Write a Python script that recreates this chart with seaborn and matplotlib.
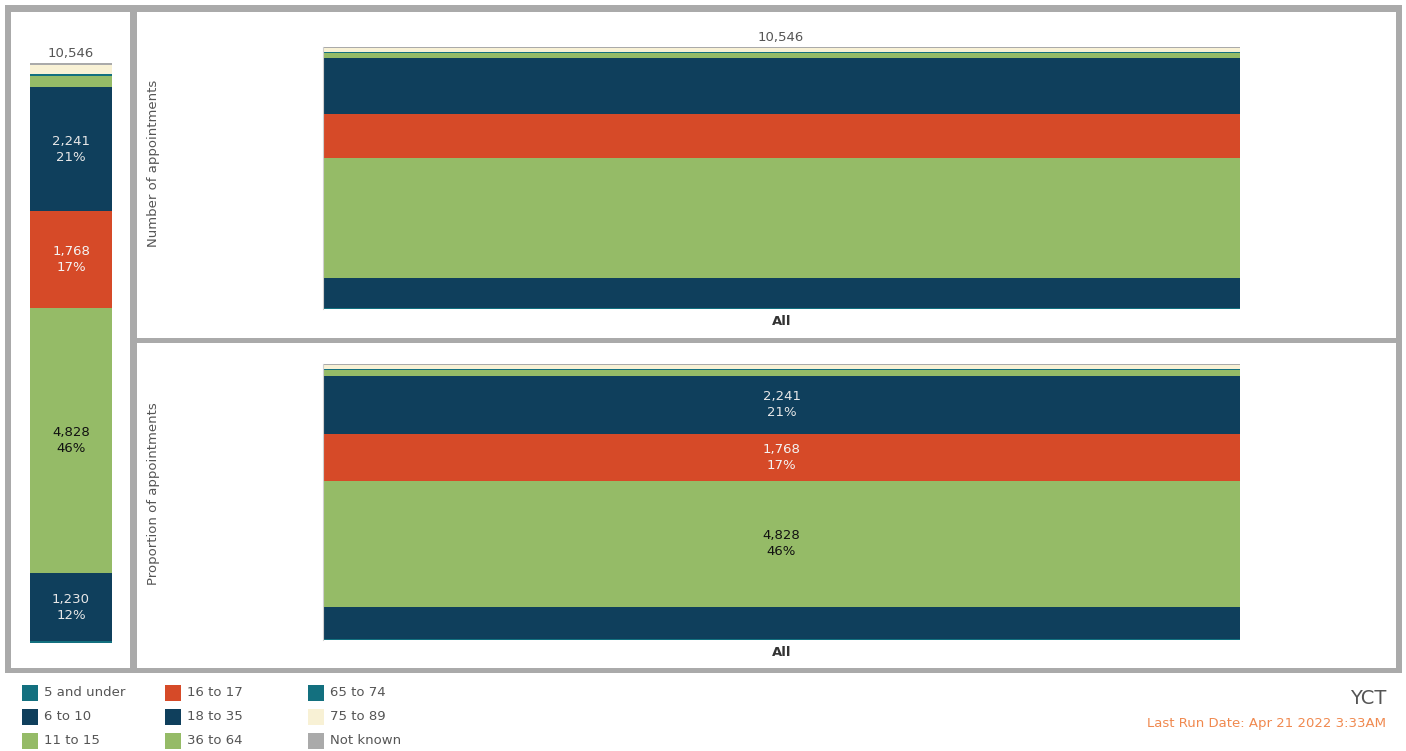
import numpy as np
import pandas as pd
import matplotlib
matplotlib.use("Agg")
import matplotlib.pyplot as plt
import seaborn as sns
from matplotlib.patches import Rectangle

# ---------------- data ----------------
categories = ["5 and under", "6 to 10", "11 to 15", "16 to 17", "18 to 35",
              "36 to 64", "65 to 74", "75 to 89", "Not known"]
counts = [34, 1230, 4828, 1768, 2241, 215, 25, 160, 45]
colors = ["#13707f", "#0f3f5c", "#95bb67", "#d64a28", "#0f3f5c",
          "#95bb67", "#13707f", "#f8f1d5", "#aaaaaa"]
text_colors = {"#0f3f5c": "#e8e8e8", "#d64a28": "#f4f4f4", "#95bb67": "#111111"}
labelled_left = ["6 to 10", "11 to 15", "16 to 17", "18 to 35"]
labelled_prop = ["11 to 15", "16 to 17", "18 to 35"]
group = ["All"]
total_label = "10,546"
run_date = "Last Run Date: Apr 21 2022 3:33AM"
org = "YCT"

total = sum(counts)
props = [c / total for c in counts]

sns.set_style("white")
plt.rcParams["font.family"] = ["DejaVu Sans"]

FS = 9.5
W, H = 1406, 751
fig = plt.figure(figsize=(W / 100, H / 100), dpi=100)


def rect_px(x0, y0, x1, y1, **kw):
    r = Rectangle((x0 / W, 1 - y1 / H), (x1 - x0) / W, (y1 - y0) / H,
                  transform=fig.transFigure, **kw)
    fig.add_artist(r)
    return r


def axes_px(x0, y0, x1, y1):
    return fig.add_axes([x0 / W, 1 - y1 / H, (x1 - x0) / W, (y1 - y0) / H])


def ftext(x, y, s, **kw):
    fig.text(x / W, 1 - y / H, s, **kw)


# panel frame
rect_px(5, 5, 1402, 673, facecolor="#aaaaaa", edgecolor="none", zorder=-3)
rect_px(11, 12, 130, 668, facecolor="white", edgecolor="none", zorder=-2)
rect_px(137, 12, 1396, 338, facecolor="white", edgecolor="none", zorder=-2)
rect_px(137, 343, 1396, 668, facecolor="white", edgecolor="none", zorder=-2)


def stacked(ax, values, label_set, top):
    bottom = 0.0
    for cat, v, c, col in zip(categories, values, counts, colors):
        df = pd.DataFrame({"grp": group, "val": [v]})
        sns.barplot(data=df, x="grp", y="val", color=col, width=1.0,
                    bottom=bottom, errorbar=None, ax=ax, linewidth=0,
                    saturation=1)
        if cat in label_set:
            pct = round(c / total * 100)
            ax.text(0, bottom + v / 2, f"{c:,}\n{pct}%", ha="center",
                    va="center", fontsize=FS, linespacing=1.3,
                    color=text_colors.get(col, "white"))
        bottom += v
    ax.set_xlim(-0.5, 0.5)
    ax.set_ylim(0, top)
    ax.set_xlabel("")
    ax.set_ylabel("")
    ax.set_yticks([])
    ax.tick_params(axis="x", length=0, pad=4)
    for s in ["top", "right", "bottom"]:
        ax.spines[s].set_visible(False)
    ax.spines["left"].set_color("#cfcfcf")
    ax.spines["left"].set_linewidth(0.8)
    ax.set_facecolor("none")


# left bar
axL = axes_px(30, 63, 112, 643)
stacked(axL, counts, labelled_left, total)
axL.set_xticks([])
axL.spines["left"].set_visible(False)
ftext(71, 54, total_label, ha="center", va="center", fontsize=FS, color="#555555")

# top right: counts
axT = axes_px(323, 47, 1240, 309)
stacked(axT, counts, [], total)
axT.set_xticks([0])
axT.set_xticklabels(group, fontweight="bold", fontsize=FS, color="#333333")
ftext(781, 38, total_label, ha="center", va="center", fontsize=FS, color="#555555")
ftext(153, 163, "Number of appointments", rotation=90, ha="center",
      va="center", fontsize=FS, color="#555555")

# bottom right: proportions
axB = axes_px(323, 364, 1240, 640)
stacked(axB, props, labelled_prop, 1.0)
axB.set_xticks([0])
axB.set_xticklabels(group, fontweight="bold", fontsize=FS, color="#333333")
ftext(153, 494, "Proportion of appointments", rotation=90, ha="center",
      va="center", fontsize=FS, color="#555555")

# legend
col_x = [22, 165, 308]
row_y = [693, 717, 741]
for i, (cat, col) in enumerate(zip(categories, colors)):
    cx = col_x[i // 3]
    cy = row_y[i % 3]
    rect_px(cx, cy - 8, cx + 16, cy + 8, facecolor=col, edgecolor="none", zorder=1)
    ftext(cx + 22, cy, cat, ha="left", va="center", fontsize=FS, color="#555555")

# footer
ftext(1386, 698, org, ha="right", va="center", fontsize=14, color="#555555")
ftext(1386, 723, run_date, ha="right", va="center", fontsize=FS, color="#f0894f")

fig.savefig("out.png", dpi=100)
